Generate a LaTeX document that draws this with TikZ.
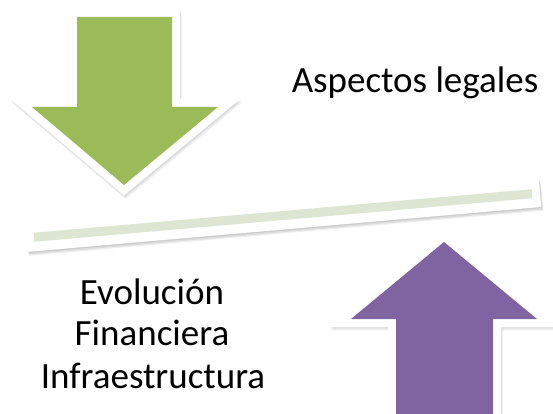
\documentclass[tikz,border=0pt]{standalone}
\usepackage{fontspec}
\setmainfont{Carlito}
\definecolor{arrgreen}{HTML}{9BBB59}
\definecolor{arrpurple}{HTML}{8064A2}
\definecolor{barfill}{HTML}{DDE6D3}
\begin{document}
\begin{tikzpicture}[x=1pt,y=-1pt,
  halo/.style={draw=white,fill=white,line width=16pt,line join=miter,miter limit=10},
  shade1/.style={draw=black,fill=black,line width=16pt,line join=miter,miter limit=10,opacity=0.05},
  lbl/.style={font=\fontsize{37}{44}\selectfont,inner sep=0pt,anchor=base}]
\useasboundingbox (0,0) rectangle (553,414);
% green arrow
\foreach \s in {1,2,3}{
  \fill[shade1,shift={(\s*0.6,\s*1.2)}] (77,17) -- (172,17) -- (172,107) -- (218,107) -- (124,185) -- (32,107) -- (77,107) -- cycle;}
\filldraw[halo] (77,17) -- (172,17) -- (172,107) -- (218,107) -- (124,185) -- (32,107) -- (77,107) -- cycle;
\fill[arrgreen] (77,17) -- (172,17) -- (172,107) -- (218,107) -- (124,185) -- (32,107) -- (77,107) -- cycle;
% purple arrow
\foreach \s in {1,2,3}{
  \fill[shade1,shift={(\s*0.6,\s*1.2)}] (396,430) -- (396,319) -- (351,319) -- (444,242) -- (537,319) -- (493,319) -- (493,430) -- cycle;}
\filldraw[halo] (396,430) -- (396,319) -- (351,319) -- (444,242) -- (537,319) -- (493,319) -- (493,430) -- cycle;
\fill[arrpurple] (396,430) -- (396,319) -- (351,319) -- (444,242) -- (537,319) -- (493,319) -- (493,430) -- cycle;
% bar
\begin{scope}[shift={(283,215.5)},rotate=5]
  \foreach \s in {1,2,3}{
    \fill[black,opacity=0.07,shift={(\s*0.6,\s*1.3)}] (-258,-14) rectangle (258,14);}
  \fill[white] (-258,-14) rectangle (258,14);
  \fill[barfill] (-250,-4.5) rectangle (250,4.5);
\end{scope}
% labels
\node[lbl] (asp) at (415,93) {Aspectos legales};
\node[lbl] (evo) at (152,304) {Evolución};
\node[lbl] (fin) at (152,345) {Financiera};
\node[lbl] (inf) at (153,388) {Infraestructura};
\end{tikzpicture}
\end{document}
